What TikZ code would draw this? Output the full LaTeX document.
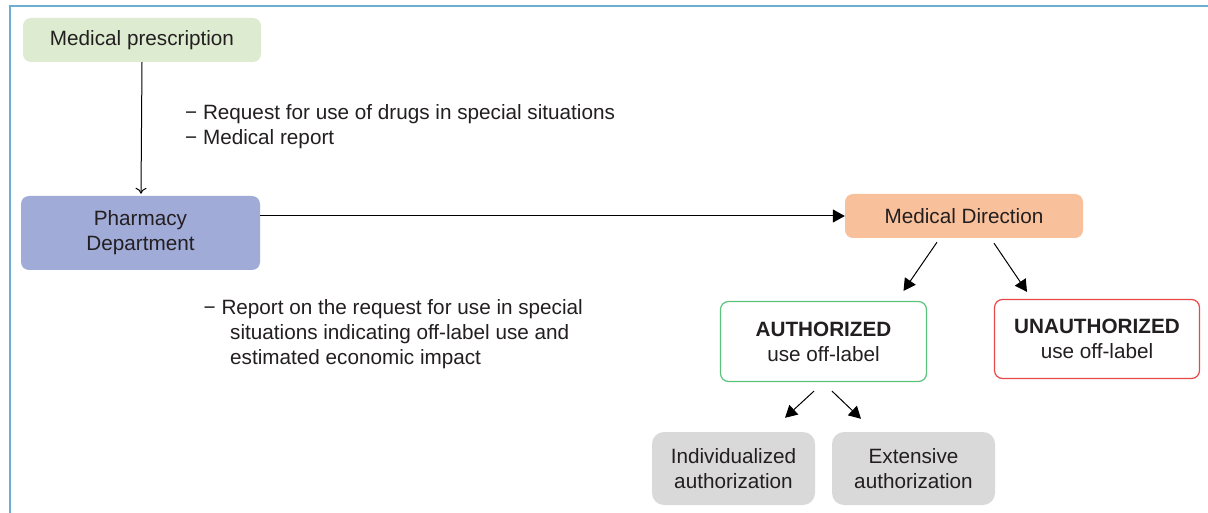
\documentclass[tikz,border=0pt]{standalone}
\usepackage{fontspec}
\setmainfont{Liberation Sans}
\usetikzlibrary{arrows.meta,calc}
\definecolor{txt}{HTML}{231F20}
\definecolor{frameblue}{HTML}{6BAED0}
\definecolor{presc}{HTML}{DDEBD1}
\definecolor{pharm}{HTML}{A1ABD8}
\definecolor{mdir}{HTML}{F9C19B}
\definecolor{authg}{HTML}{5CC47A}
\definecolor{unauthr}{HTML}{E84848}
\definecolor{grayb}{HTML}{D9D9D9}
\tikzset{
  box/.style={rounded corners=8pt, align=center, text=txt, inner sep=0pt,
    font=\fontsize{20.7}{25}\selectfont},
  note/.style={anchor=north west, align=left, text=txt, inner sep=0pt,
    font=\fontsize{20.7}{25}\selectfont},
  thinarrow/.style={draw=black, line width=1pt, -{To[length=6pt,width=11pt]}},
  fatarrow/.style={draw=black, line width=1pt, -{Triangle[length=12pt,width=13pt]}},
}
\begin{document}
\begin{tikzpicture}[x=1pt,y=-1pt]
\useasboundingbox (0,0) rectangle (1208,513);
\fill[white] (0,0) rectangle (1208,513);
% frame
\draw[frameblue, line width=2pt] (9.5,513) -- (9.5,6.5) -- (1208,6.5);

\node[box, fill=presc, minimum width=238pt, minimum height=44pt] (presc) at (142,40) {Medical prescription};
\node[box, fill=pharm, minimum width=239pt, minimum height=74pt] (pharm) at (140.5,233) {Pharmacy\\Department};
\node[box, fill=mdir, minimum width=238pt, minimum height=44pt] (mdir) at (964,216) {Medical Direction};
\node[box, draw=authg, line width=1.2pt, fill=white, minimum width=206pt, minimum height=80pt] (auth) at (823.5,341.5) {\textbf{AUTHORIZED}\\use off-label};
\node[box, draw=unauthr, line width=1.2pt, fill=white, minimum width=205pt, minimum height=79pt] (unauth) at (1097,339) {\textbf{UNAUTHORIZED}\\use off-label};
\node[box, fill=grayb, rounded corners=12pt, minimum width=163pt, minimum height=73pt] (indiv) at (733.5,468.5) {Individualized\\authorization};
\node[box, fill=grayb, rounded corners=12pt, minimum width=163pt, minimum height=73pt] (ext) at (913.5,468.5) {Extensive\\authorization};

\node[note] (req) at (185,104.5) {− Request for use of drugs in special situations\\− Medical report};
\node[note] (rep) at (203.5,299.5) {− Report on the request for use in special\\\hspace*{26.5pt}situations indicating off-label use and\\\hspace*{26.5pt}estimated economic impact};

\draw[thinarrow] (presc.south) -- ($(pharm.north)+(0.5,-2)$);
\draw[fatarrow] (pharm.east |- mdir.west) -- (mdir.west);
\draw[fatarrow] ($(mdir.south)+(-27,4)$) -- ($(auth.north)+(80,-10)$);
\draw[fatarrow] ($(mdir.south)+(30,5)$) -- ($(unauth.north)+(-70,-7)$);
\draw[fatarrow] ($(auth.south)+(-9.5,9)$) -- ($(indiv.north)+(51.5,-14)$);
\draw[fatarrow] ($(auth.south)+(8.5,9)$) -- ($(ext.north)+(-52.5,-13)$);
\end{tikzpicture}
\end{document}
